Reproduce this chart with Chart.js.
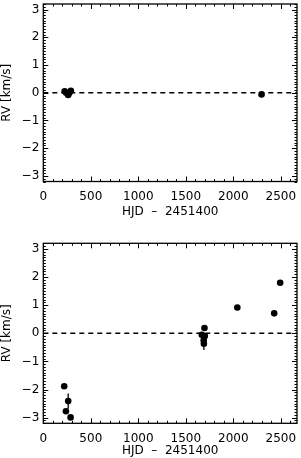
<!DOCTYPE html>
<html>
<head>
<meta charset="utf-8">
<script src="https://cdn.jsdelivr.net/npm/chart.js@4"></script>
<style>
  html, body { margin: 0; padding: 0; background: #fff; }
  .panel { position: absolute; left: 0; width: 301px; height: 229px; }
</style>
</head>
<body>
<div class="panel" style="top:0"><canvas id="top"></canvas></div>
<div class="panel" style="top:229px"><canvas id="bottom"></canvas></div>
<script>
// --- data ---
const X_TICKS = [0, 500, 1000, 1500, 2000, 2500];
const Y_TICKS = [-3, -2, -1, 0, 1, 2, 3];

const TOP_X = [225, 240, 262, 275, 290, 2297];
const TOP_Y = [0.05, 0.00, -0.08, 0.00, 0.07, -0.06];
const TOP_ERR = [0, 0, 0, 0, 0, 0];

const BOT_X = [220, 238, 262, 287, 1668, 1696, 1700, 1688, 1690, 2042, 2430, 2493];
const BOT_Y = [-1.88, -2.77, -2.41, -2.99, -0.05, 0.19, -0.10, -0.25, -0.37, 0.92, 0.71, 1.80];
const BOT_ERR = [0, 0, 0.27, 0, 0, 0, 0, 0, 0.22, 0, 0, 0];

const X_MIN = 0, X_MAX = 2670;
const Y_MIN = -3.2, Y_MAX = 3.2;
const X_MINOR = 100, Y_MINOR = 0.1;

const FONT = 'DejaVu Sans';

// --- frame, inward ticks and error bars ---
const framePlugin = {
  id: 'frame',
  afterDatasetsDraw(chart) {
    const { ctx, chartArea: a, scales: { x, y } } = chart;
    ctx.save();
    ctx.strokeStyle = '#000';
    ctx.lineWidth = 1.3;

    // error bars
    const ds = chart.data.datasets[0];
    ctx.beginPath();
    ds.data.forEach((p, i) => {
      const e = ds.err[i];
      if (!e) return;
      const px = x.getPixelForValue(p.x);
      ctx.moveTo(px, y.getPixelForValue(p.y + e));
      ctx.lineTo(px, y.getPixelForValue(p.y - e));
    });
    ctx.stroke();

    ctx.strokeRect(a.left, a.top, a.width, a.height);
    ctx.lineWidth = 1;
    ctx.beginPath();
    for (let v = X_MINOR; v < X_MAX; v += X_MINOR) {
      const px = Math.round(x.getPixelForValue(v)) + 0.5;
      const len = v % 500 === 0 ? 5 : 2.5;
      ctx.moveTo(px, a.bottom); ctx.lineTo(px, a.bottom - len);
      ctx.moveTo(px, a.top); ctx.lineTo(px, a.top + len);
    }
    for (let k = Math.ceil(Y_MIN / Y_MINOR); k * Y_MINOR <= Y_MAX; k++) {
      const v = k * Y_MINOR;
      const py = Math.round(y.getPixelForValue(v)) + 0.5;
      const len = k % 10 === 0 ? 5 : 2.5;
      ctx.moveTo(a.left, py); ctx.lineTo(a.left + len, py);
      ctx.moveTo(a.right, py); ctx.lineTo(a.right - len, py);
    }
    ctx.stroke();
    ctx.restore();
  }
};

function noPad(s) {
  s.paddingTop = 0; s.paddingBottom = 0; s.paddingLeft = 0; s.paddingRight = 0;
}

function makeChart(id, xs, ys, errs, padTop, xHeight, titlePad) {
  const pts = xs.map((v, i) => ({ x: v, y: ys[i] }));
  return new Chart(document.getElementById(id), {
    type: 'scatter',
    data: {
      datasets: [
        { data: pts, err: errs, backgroundColor: '#000', borderColor: '#000', pointRadius: 3.3, pointBorderWidth: 0 },
        { type: 'line', data: [{ x: X_MIN, y: 0 }, { x: X_MAX, y: 0 }], borderColor: '#000', borderWidth: 1.4, borderDash: [5, 4], pointRadius: 0 }
      ]
    },
    options: {
      responsive: true, maintainAspectRatio: false, animation: false,
      layout: { padding: { top: padTop, right: 3.3, left: 0, bottom: 0 } },
      plugins: { legend: { display: false }, tooltip: { enabled: false } },
      scales: {
        x: {
          type: 'linear', min: X_MIN, max: X_MAX,
          afterBuildTicks: s => { s.ticks = X_TICKS.map(v => ({ value: v })); },
          afterFit: s => { s.height = xHeight; noPad(s); },
          grid: { display: false, drawTicks: false }, border: { display: false },
          ticks: { color: '#000', font: { family: FONT, size: 12 }, padding: 8, maxRotation: 0, autoSkip: false, callback: v => String(v) },
          title: { display: true, text: 'HJD  –  2451400', color: '#000', font: { family: FONT, size: 12 }, padding: { top: 0, bottom: titlePad } }
        },
        y: {
          min: Y_MIN, max: Y_MAX,
          afterBuildTicks: s => { s.ticks = Y_TICKS.map(v => ({ value: v })); },
          afterFit: s => { s.width = 43.3; noPad(s); },
          grid: { display: false, drawTicks: false }, border: { display: false },
          ticks: { color: '#000', font: { family: FONT, size: 12 }, padding: 4, callback: v => String(v).replace('-', '\u2212') },
          title: { display: true, text: 'RV [km/s]', color: '#000', font: { family: FONT, size: 12 }, padding: { top: 0, bottom: 0 } }
        }
      }
    },
    plugins: [framePlugin]
  });
}

makeChart('top', TOP_X, TOP_Y, TOP_ERR, 1, 47.5, 10);
makeChart('bottom', BOT_X, BOT_Y, BOT_ERR, 14.3, 34.7, 0);
</script>
</body>
</html>
